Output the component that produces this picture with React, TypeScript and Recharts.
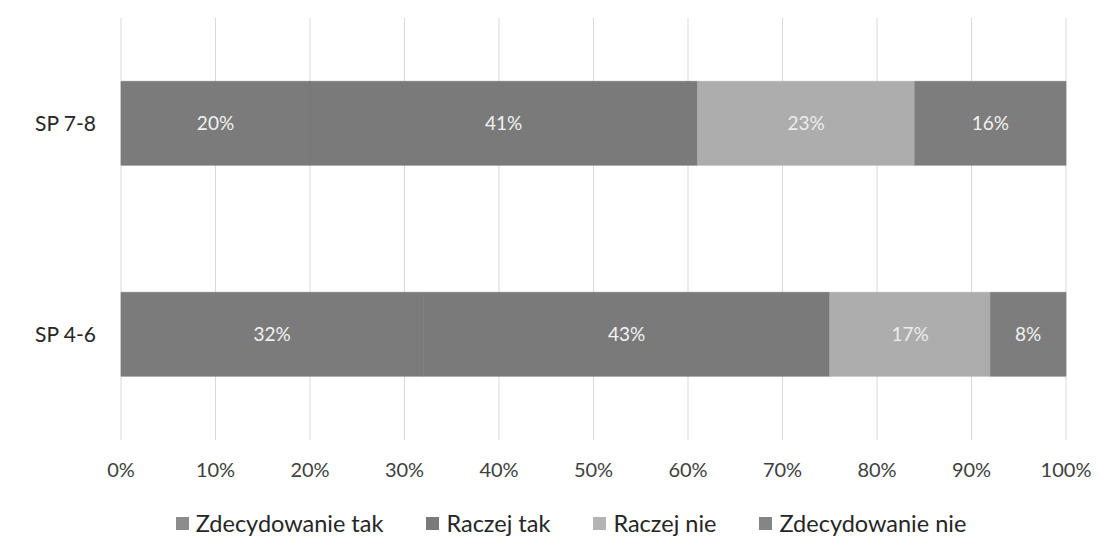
import React from 'react'
import {
  BarChart,
  Bar,
  XAxis,
  YAxis,
  CartesianGrid,
  Legend,
  LabelList,
} from 'recharts'

const CATEGORIES = ['SP 7-8', 'SP 4-6']
const ZDECYDOWANIE_TAK = [20, 32]
const RACZEJ_TAK = [41, 43]
const RACZEJ_NIE = [23, 17]
const ZDECYDOWANIE_NIE = [16, 8]
const X_TICKS = [0, 10, 20, 30, 40, 50, 60, 70, 80, 90, 100]

const SERIES = [
  { key: 'zt', name: 'Zdecydowanie tak', color: '#7b7b7b', legend: '#8c8c8c', label: '#f2f2f2' },
  { key: 'rt', name: 'Raczej tak', color: '#7a7a7a', legend: '#7a7a7a', label: '#f2f2f2' },
  { key: 'rn', name: 'Raczej nie', color: '#adadad', legend: '#b3b3b3', label: '#ececec' },
  { key: 'zn', name: 'Zdecydowanie nie', color: '#7d7d7d', legend: '#858585', label: '#f2f2f2' },
]

const data = CATEGORIES.map((cat, i) => ({
  cat,
  zt: ZDECYDOWANIE_TAK[i],
  rt: RACZEJ_TAK[i],
  rn: RACZEJ_NIE[i],
  zn: ZDECYDOWANIE_NIE[i],
}))

const FONT = 'Lato, "Open Sans", sans-serif'

function LegendContent() {
  return (
    <div
      style={{
        display: 'flex',
        justifyContent: 'center',
        gap: 43,
        fontFamily: FONT,
        fontSize: 23.5,
        lineHeight: '28px',
        color: '#262626',
        paddingLeft: 76,
      }}
    >
      {SERIES.map((s) => (
        <div key={s.key} style={{ display: 'flex', alignItems: 'center' }}>
          <span
            style={{
              display: 'inline-block',
              width: 13,
              height: 13,
              background: s.legend,
              marginRight: 7,
            }}
          />
          {s.name}
        </div>
      ))}
    </div>
  )
}

export default function App() {
  return (
    <div style={{ position: 'absolute', left: 0, top: 0, background: '#fff' }}>
      <BarChart
        width={1107}
        height={555}
        data={data}
        layout="vertical"
        margin={{ top: 18, right: 41, left: 0, bottom: 37 }}
        barCategoryGap="30%"
      >
        <CartesianGrid horizontal={false} stroke="#d9d9d9" />
        <XAxis
          type="number"
          domain={[0, 100]}
          ticks={X_TICKS}
          tickFormatter={(v: number) => `${v}%`}
          axisLine={false}
          tickLine={false}
          tick={{ fontSize: 20, fill: '#404040', fontFamily: FONT }}
          tickMargin={17}
          height={50}
        />
        <YAxis
          type="category"
          dataKey="cat"
          axisLine={false}
          tickLine={false}
          width={121}
          tick={{ fontSize: 21, fill: '#262626', fontFamily: FONT }}
          tickMargin={19}
        />
        <Legend
          verticalAlign="bottom"
          content={<LegendContent />}
          wrapperStyle={{ bottom: 18 }}
        />
        {SERIES.map((s) => (
          <Bar
            key={s.key}
            dataKey={s.key}
            name={s.name}
            stackId="a"
            fill={s.color}
            stroke={s.color}
            strokeWidth={0.6}
            isAnimationActive={false}
          >
            <LabelList
              dataKey={s.key}
              position="center"
              formatter={(v: number) => `${v}%`}
              fill={s.label}
              stroke="none"
              style={{ fontSize: 19, fontFamily: FONT }}
            />
          </Bar>
        ))}
      </BarChart>
    </div>
  )
}
